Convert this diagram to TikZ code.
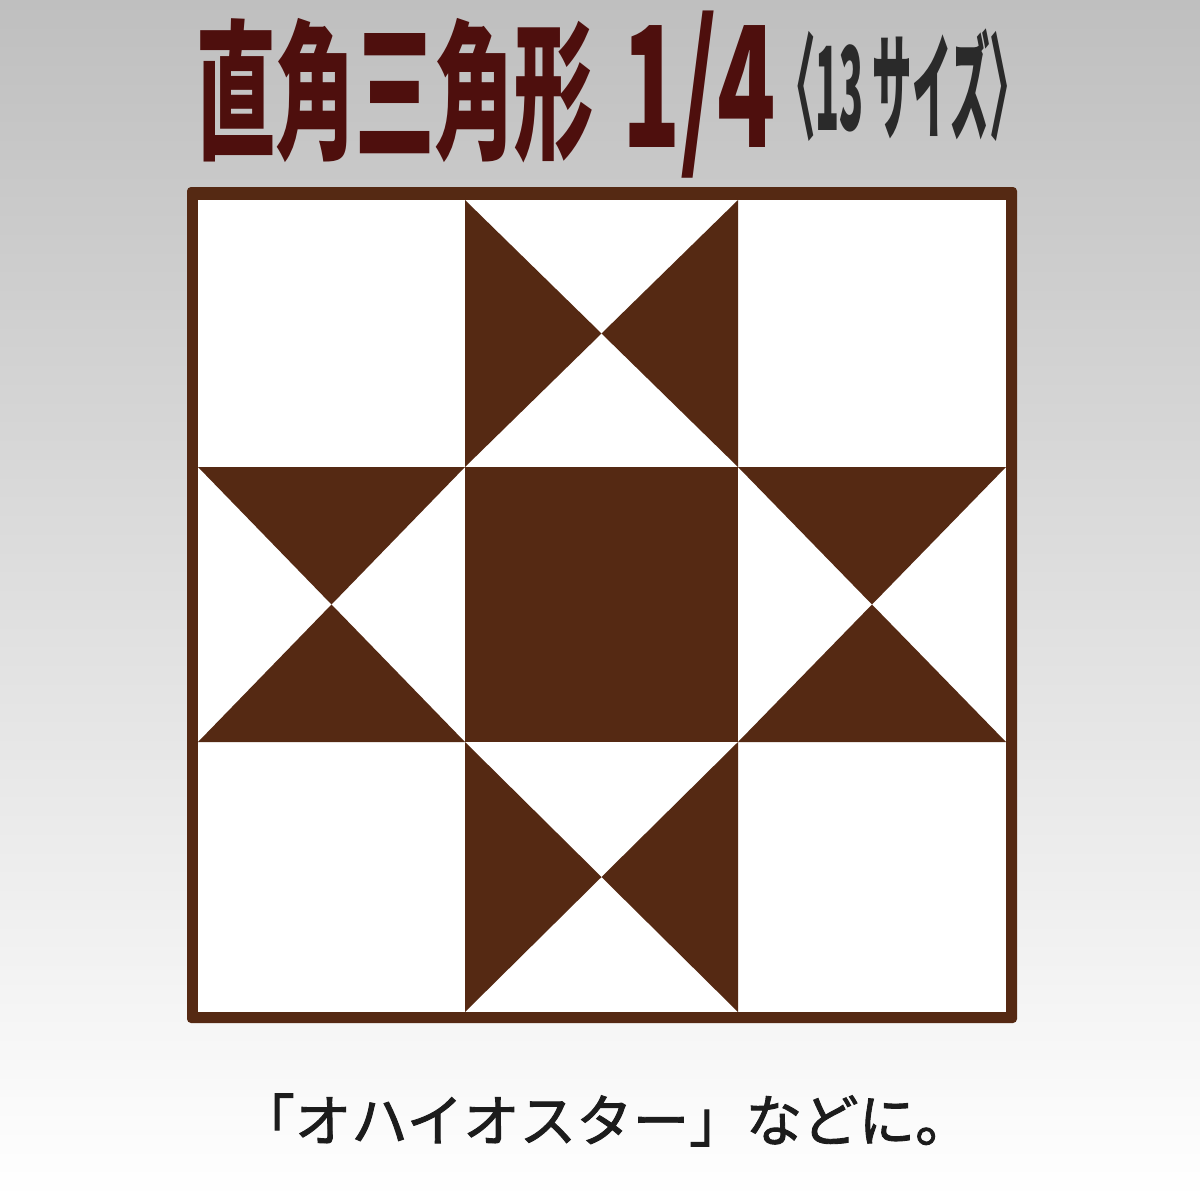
\documentclass[tikz,border=0pt]{standalone}
\usepackage{fontspec}
\newfontfamily\jpfont{Noto Sans CJK JP}
\newfontfamily\jpcapfont{Noto Sans CJK JP}[FakeBold=1.6]
\definecolor{quiltbrown}{HTML}{552913}
\definecolor{titlered}{HTML}{4E0F0D}
\definecolor{subgray}{HTML}{2A2A2A}
\definecolor{captionblack}{HTML}{1C1C1C}
\definecolor{bgtop}{HTML}{BFBFBF}
\tikzset{
  patch/.style={fill=quiltbrown},
  titletext/.style={inner sep=0pt, text=titlered, font=\jpfont\bfseries\fontsize{150}{150}\selectfont},
  digittext/.style={inner sep=0pt, text=titlered, font=\jpfont\bfseries\fontsize{168}{168}\selectfont},
  subtext/.style={inner sep=0pt, text=subgray, font=\jpfont\bfseries\fontsize{116}{116}\selectfont},
  captiontext/.style={inner sep=0pt, text=captionblack, font=\jpcapfont\fontsize{56.5}{56.5}\selectfont}
}
\begin{document}
\begin{tikzpicture}[x=1pt,y=-1pt]
\useasboundingbox (0,0) rectangle (1200,1200);
\shade[top color=bgtop, bottom color=white] (0,0) rectangle (1200,1200);
% grid coordinates
\coordinate (A) at (198,200);
\coordinate (B) at (1006,1012);
% frame
\fill[quiltbrown, rounded corners=4] (187,187) rectangle (1017,1023);
\fill[white] (A) rectangle (B);
% center square
\fill[patch] (465,467) rectangle (738,742);
% top middle
\coordinate (ct) at (601.5,333.5);
\fill[patch] (465,200) -- (ct) -- (465,467) -- cycle;
\fill[patch] (738,200) -- (ct) -- (738,467) -- cycle;
% bottom middle
\coordinate (cb) at (601.5,877);
\fill[patch] (465,742) -- (cb) -- (465,1012) -- cycle;
\fill[patch] (738,742) -- (cb) -- (738,1012) -- cycle;
% left middle
\coordinate (cl) at (331.5,604.5);
\fill[patch] (198,467) -- (cl) -- (465,467) -- cycle;
\fill[patch] (198,742) -- (cl) -- (465,742) -- cycle;
% right middle
\coordinate (cr) at (872,604.5);
\fill[patch] (738,467) -- (cr) -- (1006,467) -- cycle;
\fill[patch] (738,742) -- (cr) -- (1006,742) -- cycle;
% titles
\node[titletext, anchor=base west] (t1) at (196,147) {\scalebox{0.53}[1]{直角三角形}};
\node[digittext, anchor=base west] (t2) at (622,147) {\scalebox{0.57}[1]{1/4}};
\node[subtext, anchor=base west] (t3) at (776,130) {\scalebox{0.34}[1]{〈13 サイズ〉}};
\node[captiontext] (cap) at (605,1120) {「オハイオスター」などに。};
\end{tikzpicture}
\end{document}
